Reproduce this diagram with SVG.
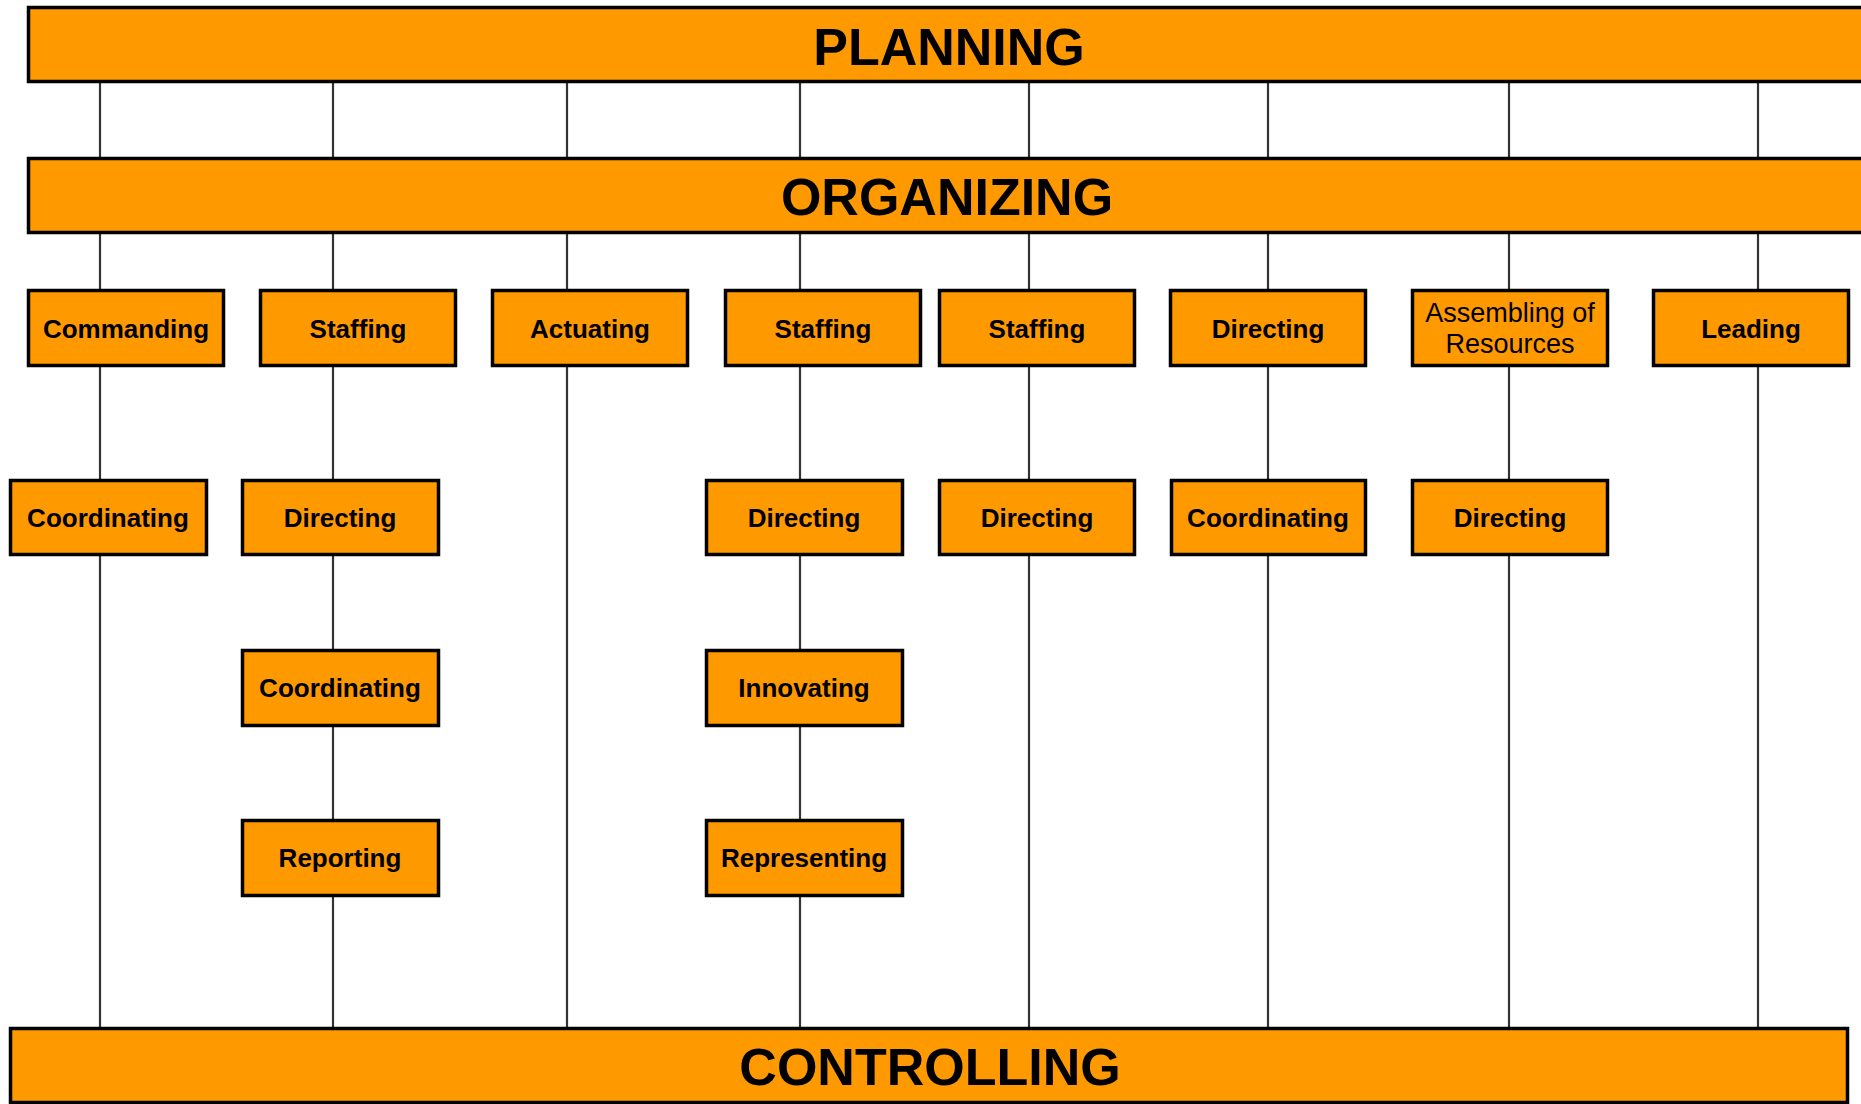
<svg xmlns="http://www.w3.org/2000/svg" width="1861" height="1104" viewBox="0 0 1861 1104">
<style>
.bar{fill:#FF9900;stroke:#000;stroke-width:3.5}
.box{fill:#FF9900;stroke:#000;stroke-width:3.5}
.big{font-family:"Liberation Sans",Arial,sans-serif;font-size:52px;font-weight:bold;fill:#000;text-anchor:middle}
.lbl{font-family:"Liberation Sans",Arial,sans-serif;font-size:26px;font-weight:bold;fill:#000;text-anchor:middle}
.lbr{font-family:"Liberation Sans",Arial,sans-serif;font-size:27px;fill:#000;text-anchor:middle}
.con line{stroke:#333;stroke-width:2.2}
</style>
<rect width="1861" height="1104" fill="#fff"/>
<g id="connectors" class="con">
<line x1="100" y1="83" x2="100" y2="157"/><line x1="333" y1="83" x2="333" y2="157"/><line x1="567" y1="83" x2="567" y2="157"/><line x1="800" y1="83" x2="800" y2="157"/><line x1="1029" y1="83" x2="1029" y2="157"/><line x1="1268" y1="83" x2="1268" y2="157"/><line x1="1509" y1="83" x2="1509" y2="157"/><line x1="1758" y1="83" x2="1758" y2="157"/>
<line x1="100" y1="234" x2="100" y2="289"/><line x1="333" y1="234" x2="333" y2="289"/><line x1="567" y1="234" x2="567" y2="289"/><line x1="800" y1="234" x2="800" y2="289"/><line x1="1029" y1="234" x2="1029" y2="289"/><line x1="1268" y1="234" x2="1268" y2="289"/><line x1="1509" y1="234" x2="1509" y2="289"/><line x1="1758" y1="234" x2="1758" y2="289"/>
<line x1="100" y1="367" x2="100" y2="479"/><line x1="100" y1="556" x2="100" y2="1028"/>
<line x1="333" y1="367" x2="333" y2="479"/><line x1="333" y1="556" x2="333" y2="649"/><line x1="333" y1="727" x2="333" y2="819"/><line x1="333" y1="897" x2="333" y2="1028"/>
<line x1="567" y1="367" x2="567" y2="1028"/>
<line x1="800" y1="367" x2="800" y2="479"/><line x1="800" y1="556" x2="800" y2="649"/><line x1="800" y1="727" x2="800" y2="819"/><line x1="800" y1="897" x2="800" y2="1028"/>
<line x1="1029" y1="367" x2="1029" y2="479"/><line x1="1029" y1="556" x2="1029" y2="1028"/>
<line x1="1268" y1="367" x2="1268" y2="479"/><line x1="1268" y1="556" x2="1268" y2="1028"/>
<line x1="1509" y1="367" x2="1509" y2="479"/><line x1="1509" y1="556" x2="1509" y2="1028"/>
<line x1="1758" y1="367" x2="1758" y2="1028"/>
</g>
<g id="planning"><rect class="bar" x="28.5" y="7.5" width="1850" height="74"/><text class="big" x="949" y="65">PLANNING</text></g>
<g id="organizing"><rect class="bar" x="28.5" y="158.5" width="1850" height="74"/><text class="big" x="947" y="215">ORGANIZING</text></g>
<g id="controlling"><rect class="bar" x="10.5" y="1028.5" width="1837" height="74"/><text class="big" x="930" y="1085">CONTROLLING</text></g>
<g id="commanding"><rect class="box" x="28.5" y="290.5" width="195" height="75"/><text class="lbl" x="126" y="338">Commanding</text></g>
<g id="staffing1"><rect class="box" x="260.5" y="290.5" width="195" height="75"/><text class="lbl" x="358" y="338">Staffing</text></g>
<g id="actuating"><rect class="box" x="492.5" y="290.5" width="195" height="75"/><text class="lbl" x="590" y="338">Actuating</text></g>
<g id="staffing2"><rect class="box" x="725.5" y="290.5" width="195" height="75"/><text class="lbl" x="823" y="338">Staffing</text></g>
<g id="staffing3"><rect class="box" x="939.5" y="290.5" width="195" height="75"/><text class="lbl" x="1037" y="338">Staffing</text></g>
<g id="directing0"><rect class="box" x="1170.5" y="290.5" width="195" height="75"/><text class="lbl" x="1268" y="338">Directing</text></g>
<g id="assembling"><rect class="box" x="1412.5" y="290.5" width="195" height="75"/><text class="lbr" x="1510" y="322">Assembling of</text><text class="lbr" x="1510" y="353">Resources</text></g>
<g id="leading"><rect class="box" x="1653.5" y="290.5" width="195" height="75"/><text class="lbl" x="1751" y="338">Leading</text></g>
<g id="coordinating1"><rect class="box" x="10.5" y="480.5" width="196" height="74"/><text class="lbl" x="108" y="527">Coordinating</text></g>
<g id="directing1"><rect class="box" x="242.5" y="480.5" width="196" height="74"/><text class="lbl" x="340" y="527">Directing</text></g>
<g id="directing2"><rect class="box" x="706.5" y="480.5" width="196" height="74"/><text class="lbl" x="804" y="527">Directing</text></g>
<g id="directing3"><rect class="box" x="939.5" y="480.5" width="195" height="74"/><text class="lbl" x="1037" y="527">Directing</text></g>
<g id="coordinating2"><rect class="box" x="1171.5" y="480.5" width="194" height="74"/><text class="lbl" x="1268" y="527">Coordinating</text></g>
<g id="directing4"><rect class="box" x="1412.5" y="480.5" width="195" height="74"/><text class="lbl" x="1510" y="527">Directing</text></g>
<g id="coordinating3"><rect class="box" x="242.5" y="650.5" width="196" height="75"/><text class="lbl" x="340" y="697">Coordinating</text></g>
<g id="innovating"><rect class="box" x="706.5" y="650.5" width="196" height="75"/><text class="lbl" x="804" y="697">Innovating</text></g>
<g id="reporting"><rect class="box" x="242.5" y="820.5" width="196" height="75"/><text class="lbl" x="340" y="867">Reporting</text></g>
<g id="representing"><rect class="box" x="706.5" y="820.5" width="196" height="75"/><text class="lbl" x="804" y="867">Representing</text></g>
</svg>
